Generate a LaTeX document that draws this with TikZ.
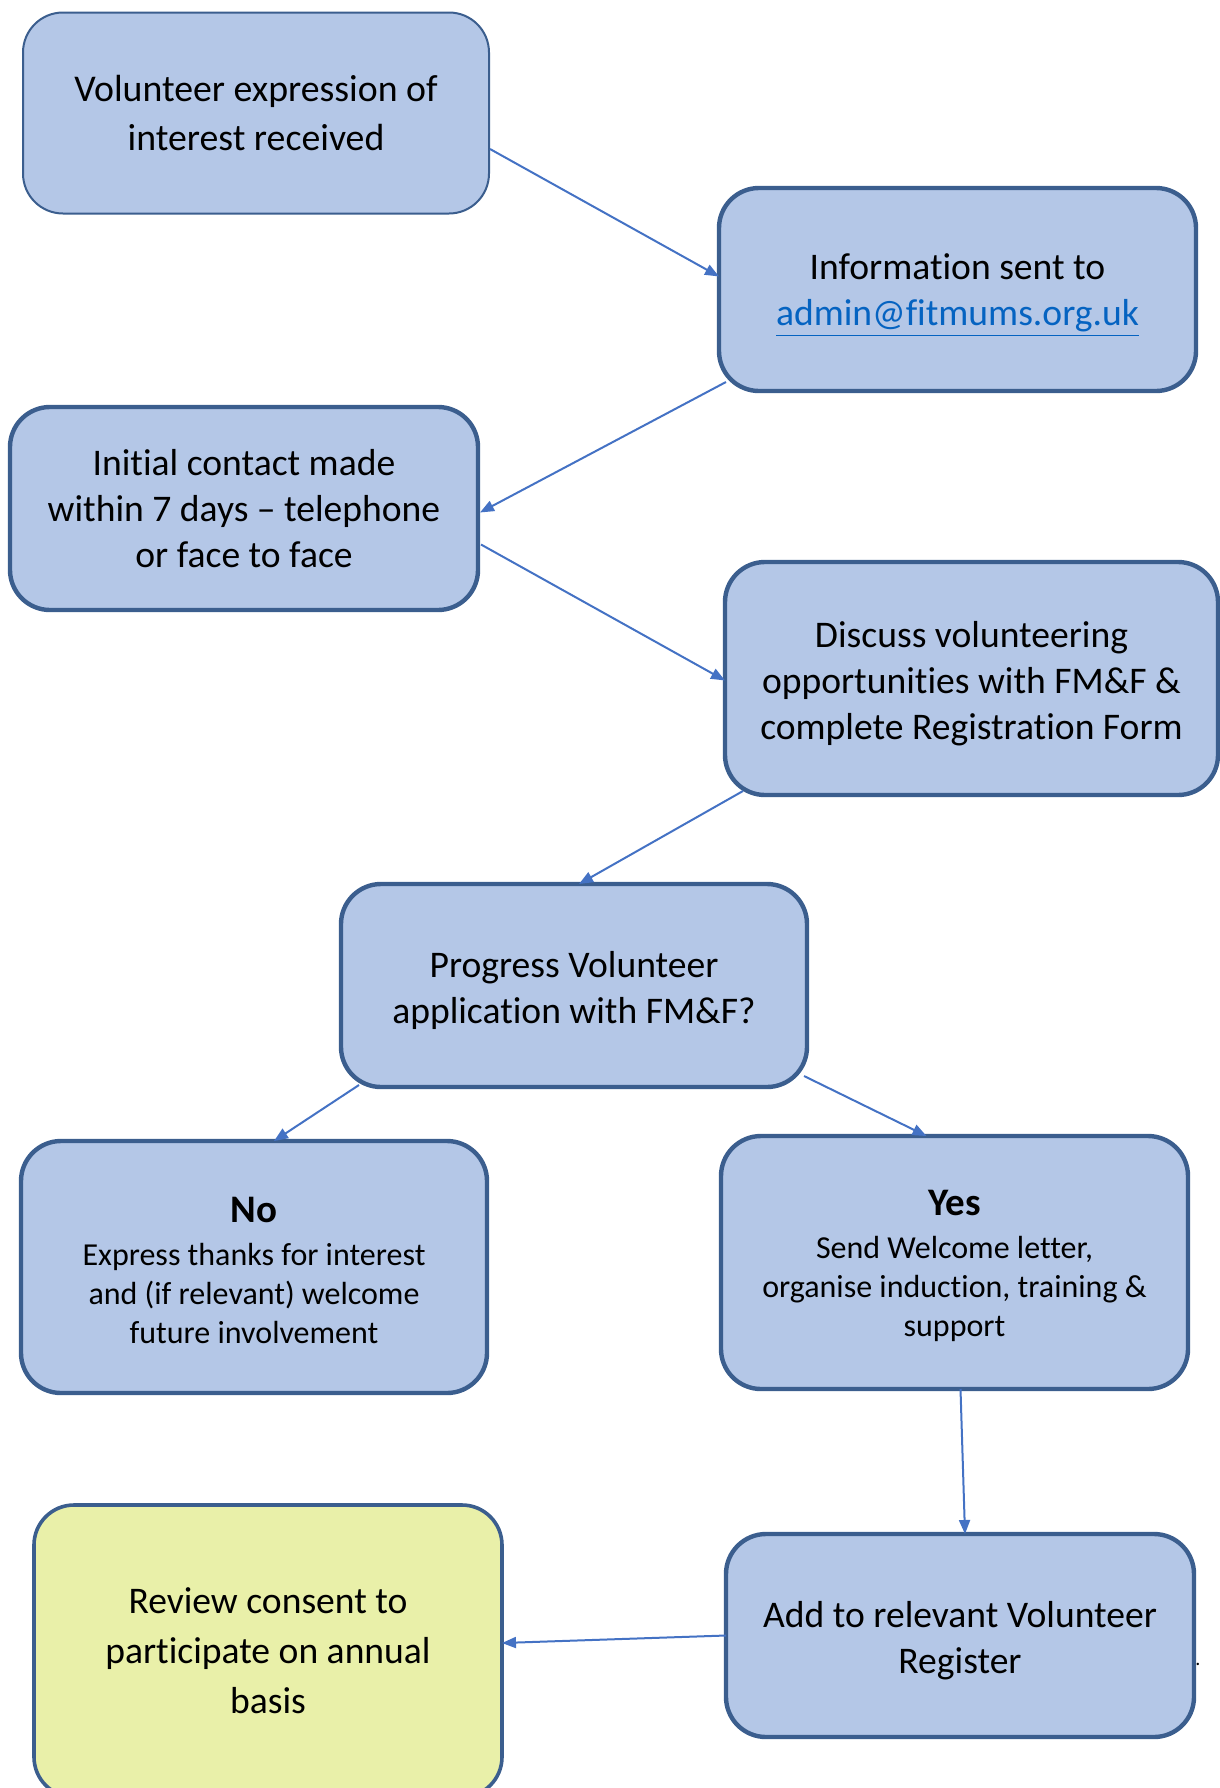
\documentclass[tikz,border=0pt]{standalone}
\usepackage{fontspec}
\setmainfont{Carlito}[Ligatures=NoCommon]
\usepackage{xcolor}
\usetikzlibrary{arrows.meta}
\definecolor{boxblue}{HTML}{B4C7E7}
\definecolor{boxedge}{HTML}{3B5E8E}
\definecolor{arrowblue}{HTML}{4472C4}
\definecolor{boxyellow}{HTML}{E9F0A9}
\definecolor{linkblue}{HTML}{0563C1}
\newcommand{\firstline}[1][18.5pt]{\rule{0pt}{#1}}

\begin{document}
\begin{tikzpicture}[x=0.5pt,y=-0.5pt,
  stage/.style={draw=boxedge,line width=2.2pt,fill=boxblue,rounded corners=20pt,
    align=center,inner sep=0pt,outer sep=0pt,font=\fontsize{18.8}{23}\selectfont},
  flow/.style={draw=arrowblue,line width=1pt,-{Triangle[length=7pt,width=5.5pt]}}]
\useasboundingbox (0,0) rectangle (1220,1788);

\node[stage,line width=1pt,minimum width=233pt,minimum height=100.5pt,font=\fontsize{18.9}{24.5}\selectfont] (volunteer) at (256,113) {Volunteer expression of\\interest received};
\node[stage,minimum width=238.5pt,minimum height=101.5pt] (info) at (957.5,289.5) {\firstline Information sent to\\\textcolor{linkblue}{\underline{admin@fitmums.org.uk}}};
\node[stage,minimum width=234pt,minimum height=101.5pt] (contact) at (244,508.5) {Initial contact made\\within 7 days -- telephone\\or face to face};
\node[stage,minimum width=246.5pt,minimum height=116.5pt] (discuss) at (971.5,678.5) {\firstline Discuss volunteering\\opportunities with FM\&F \&\\complete Registration Form};

\node[stage,minimum width=233pt,minimum height=101.5pt] (progress) at (574,985.5) {\firstline Progress Volunteer\\application with FM\&F?};

\node[stage,minimum width=233pt,minimum height=126pt,font=\fontsize{16}{19.5}\selectfont] (no) at (254,1267) {\firstline[16pt]{\fontsize{19.5}{19}\selectfont\bfseries No}\\[2pt]Express thanks for interest\\and (if relevant) welcome\\future involvement};
\node[stage,minimum width=233.5pt,minimum height=126.5pt,font=\fontsize{16}{19.5}\selectfont] (yes) at (954.5,1262.5) {\firstline[16pt]{\fontsize{19.5}{19}\selectfont\bfseries Yes}\\[2pt]Send Welcome letter,\\organise induction, training \&\\support};

\node[stage,fill=boxyellow,line width=1.8pt,minimum width=234pt,minimum height=146pt,font=\fontsize{18.8}{25}\selectfont] (review) at (268,1651) {Review consent to\\participate on annual\\basis};
\node[stage,minimum width=234pt,minimum height=101.5pt] (register) at (960,1635.5) {\firstline Add to relevant Volunteer\\Register};
\node[font=\fontsize{10}{12}\selectfont,inner sep=0pt] (dot) at (1198,1664) {.};

\draw[flow] ([shift={(1,36)}]volunteer.east) -- ([shift={(0,-13)}]info.west);
\draw[flow] ([shift={(7,-9)}]info.south west) -- ([shift={(2,4)}]contact.east);
\draw[flow] ([shift={(3,36)}]contact.east) -- ([shift={(0,2)}]discuss.west);
\draw[flow] ([shift={(18,-4)}]discuss.south west) -- ([shift={(5,0)}]progress.north);
\draw[flow] ([shift={(18,-2)}]progress.south west) -- ([shift={(20,0)}]no.north);
\draw[flow] ([shift={(-3,-11)}]progress.south east) -- ([shift={(-28,0)}]yes.north);
\draw[flow] ([shift={(6,0)}]yes.south) -- ([shift={(5,0)}]register.north);
\draw[flow] (register.west) -- ([shift={(0,-8)}]review.east);
\end{tikzpicture}
\end{document}
